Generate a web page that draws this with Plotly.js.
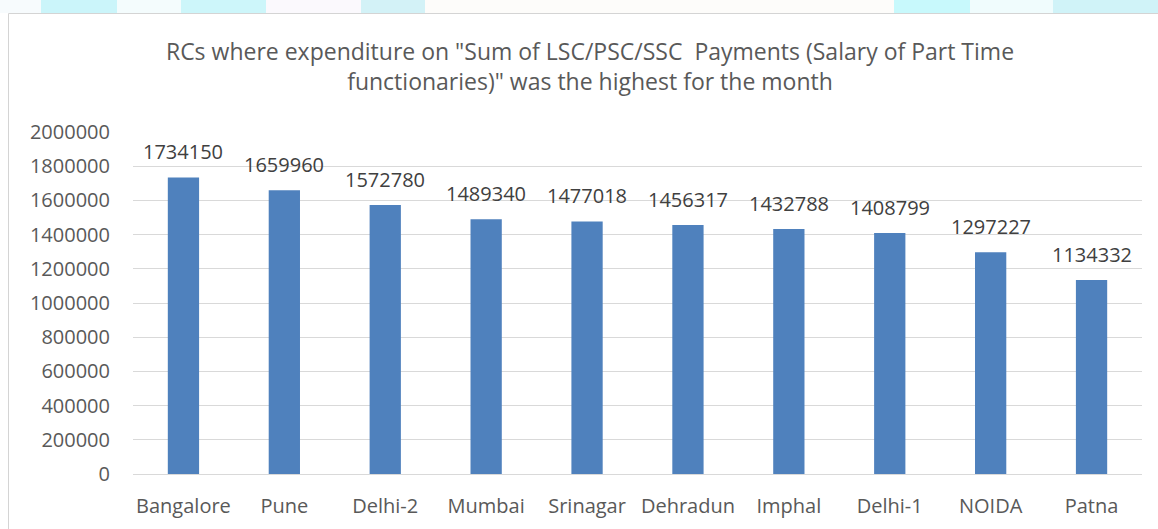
<!DOCTYPE html>
<html>
<head>
<meta charset="utf-8">
<script src="https://cdn.plot.ly/plotly-3.0.1.min.js"></script>
<style>html,body{margin:0;padding:0;background:#fff;}#chart{width:1158px;height:529px;}</style>
</head>
<body>
<div id="chart"></div>
<script>
const categories = ["Bangalore","Pune","Delhi-2","Mumbai","Srinagar","Dehradun","Imphal","Delhi-1","NOIDA","Patna"];
const values = [1734150,1659960,1572780,1489340,1477018,1456317,1432788,1408799,1297227,1134332];
const yTicks = [0,200000,400000,600000,800000,1000000,1200000,1400000,1600000,1800000,2000000];
const titleText = 'RCs where expenditure on "Sum of LSC/PSC/SSC  Payments (Salary of Part Time<br>functionaries)" was the highest for the month';

const fontFam = '"Open Sans", "Noto Sans", sans-serif';

const trace = {
  type: 'bar',
  x: categories,
  y: values,
  marker: {color: '#4f81bd'},
  hoverinfo: 'x+y'
};

const annotations = categories.map((c, i) => ({
  x: c, y: values[i], xref: 'x', yref: 'y',
  text: String(values[i]), showarrow: false,
  yanchor: 'bottom', yshift: 10,
  font: {family: fontFam, size: 20, color: '#404040'}
}));

// faint watermark strip above the chart frame (decorative, pixel bands)
const strip = [
  [0,41,'#f7fbfd'],[41,117,'#cbf5fa'],[117,181,'#f4fcfd'],[181,266,'#cdf6fa'],
  [266,361,'#fbf9fd'],[361,425,'#d3f2f7'],[425,894,'#fdfcfa'],[894,970,'#c8f9fc'],
  [970,1053,'#f0fcfd'],[1053,1158,'#d0f3f8']
];
const px2x = p => (p - 133) / 1009;
const py2y = p => (474 - p) / 342;
const shapes = strip.map(s => ({
  type:'rect', xref:'paper', yref:'paper',
  x0:px2x(s[0]), x1:px2x(s[1]), y0:py2y(13), y1:py2y(0), line:{width:0}, fillcolor:s[2], layer:'below'
}));
shapes.push({type:'rect', xref:'paper', yref:'paper', x0:px2x(8.5), x1:px2x(1170), y0:py2y(540), y1:py2y(13.5),
   line:{color:'#d4d4d4', width:1}, fillcolor:'rgba(0,0,0,0)', layer:'below'});

const layout = {
  width: 1158, height: 529,
  margin: {l:133, r:16, t:132, b:55},
  paper_bgcolor: '#ffffff', plot_bgcolor: '#ffffff',
  title: {text: titleText, x: 0.5095, xref: 'container', xanchor: 'center', y: 0.887, yref: 'container', yanchor: 'middle',
          font: {family: fontFam, size: 23, color: '#595959'}},
  font: {family: fontFam, color: '#595959'},
  bargap: 0.69,
  showlegend: false,
  xaxis: {type:'category', showline:false, ticks:'', tickfont:{family: fontFam, size:20, color:'#595959'}, showgrid:false, zeroline:false, ticklabelstandoff: 18},
  yaxis: {range:[0,2000000], tickvals: yTicks, ticktext: yTicks.map(String), showgrid:true, gridcolor:'#d9d9d9', gridwidth:1,
          zeroline:true, zerolinecolor:'#d9d9d9', zerolinewidth:1, showline:false, ticks:'',
          tickfont:{family: fontFam, size:20, color:'#595959'}, ticklabelstandoff: 22},
  annotations: annotations,
  shapes: shapes
};

Plotly.newPlot('chart', [trace], layout, {displayModeBar:false, staticPlot:true});
</script>
</body>
</html>
